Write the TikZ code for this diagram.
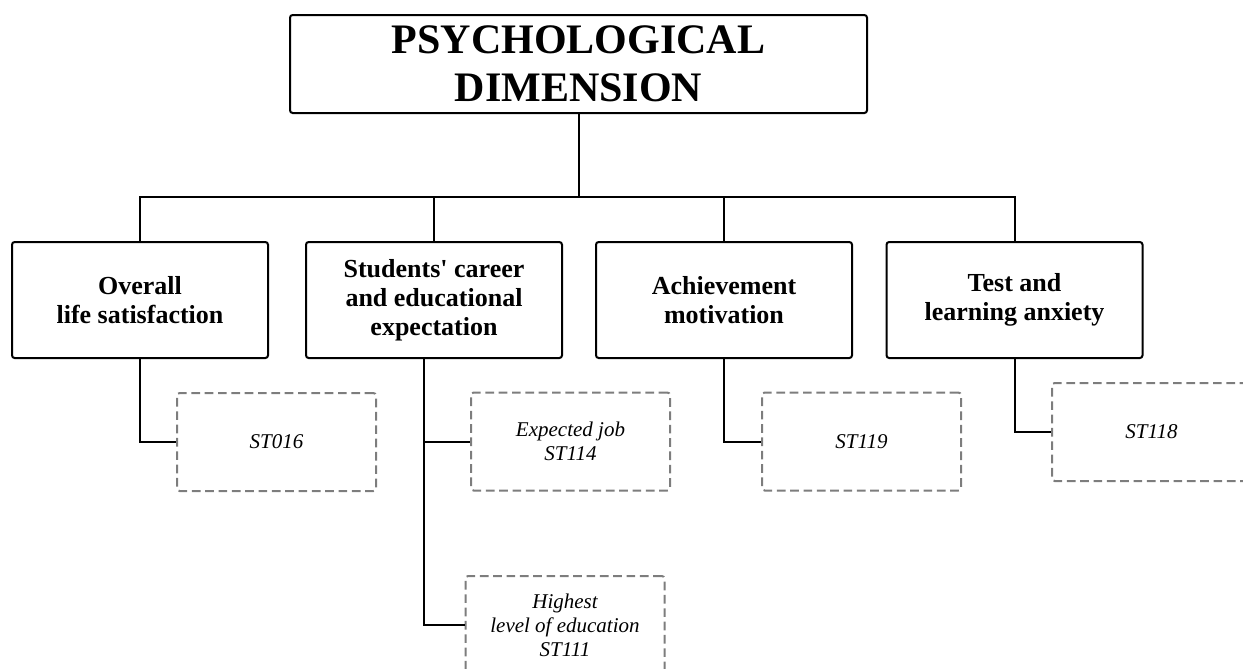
\documentclass[tikz,border=0pt]{standalone}
\usepackage{fontspec}
\setmainfont{Liberation Serif}[Ligatures=TeXOff]
\definecolor{boxgray}{RGB}{125,125,125}

\begin{document}
\begin{tikzpicture}[x=0.75pt, y=-0.75pt,
    line width=1.5pt,
    headbox/.style={draw=black, rounded corners=2pt, inner sep=0pt, align=center,
        minimum width=432.75pt, minimum height=73.5pt,
        font=\fontsize{31.5}{36}\selectfont\bfseries},
    topicbox/.style={draw=black, rounded corners=2pt, inner sep=0pt, align=center,
        minimum width=192pt, minimum height=87pt,
        font=\fontsize{19.5}{21.75}\selectfont\bfseries},
    itembox/.style={draw=boxgray, dash pattern=on 6.5pt off 3.5pt, rounded corners=2pt,
        inner sep=0pt, align=center, minimum width=149.25pt, minimum height=73.5pt,
        font=\fontsize{15.75}{18}\selectfont\itshape}]
    \useasboundingbox (0,0) rectangle (1243,668);

    \def\ybus{197};
    \def\ytop{300};

    % dimension and its four topics
    \node[headbox] (psych) at (578.5,64) {PSYCHOLOGICAL\\DIMENSION};
    \node[topicbox] (life) at (140,\ytop) {Overall\\life satisfaction};
    \node[topicbox] (career) at (434,\ytop) {Students' career\\and educational\\expectation};
    \node[topicbox] (motiv) at (724,\ytop) {Achievement\\motivation};
    \node[topicbox] (anx) at (1014.5,\ytop) {Test and\\learning anxiety};

    % questionnaire items
    \node[itembox] (st016) at (276.5,442) {ST016};
    \node[itembox] (st114) at (570.5,441.5) {Expected job\\ST114};
    \node[itembox] (st111) at (565,625) {Highest\\level of education\\ST111};
    \node[itembox] (st119) at (861.5,441.5) {ST119};
    \node[itembox] (st118) at (1151.5,432) {ST118};

    \coordinate (bus) at (578.5,\ybus);
    \draw (psych.south) -- (bus);
    \draw (life.north) |- (bus) -| (anx.north);
    \draw (career.north) -- (career.north |- bus);
    \draw (motiv.north) -- (motiv.north |- bus);

    \coordinate (cdrop) at ([xshift=-7.5pt]career.south);
    \draw (life.south) |- (st016.west);
    \draw (cdrop) |- (st114.west);
    \draw (cdrop) |- (st111.west);
    \draw (motiv.south) |- (st119.west);
    \draw (anx.south) |- (st118.west);
\end{tikzpicture}
\end{document}
